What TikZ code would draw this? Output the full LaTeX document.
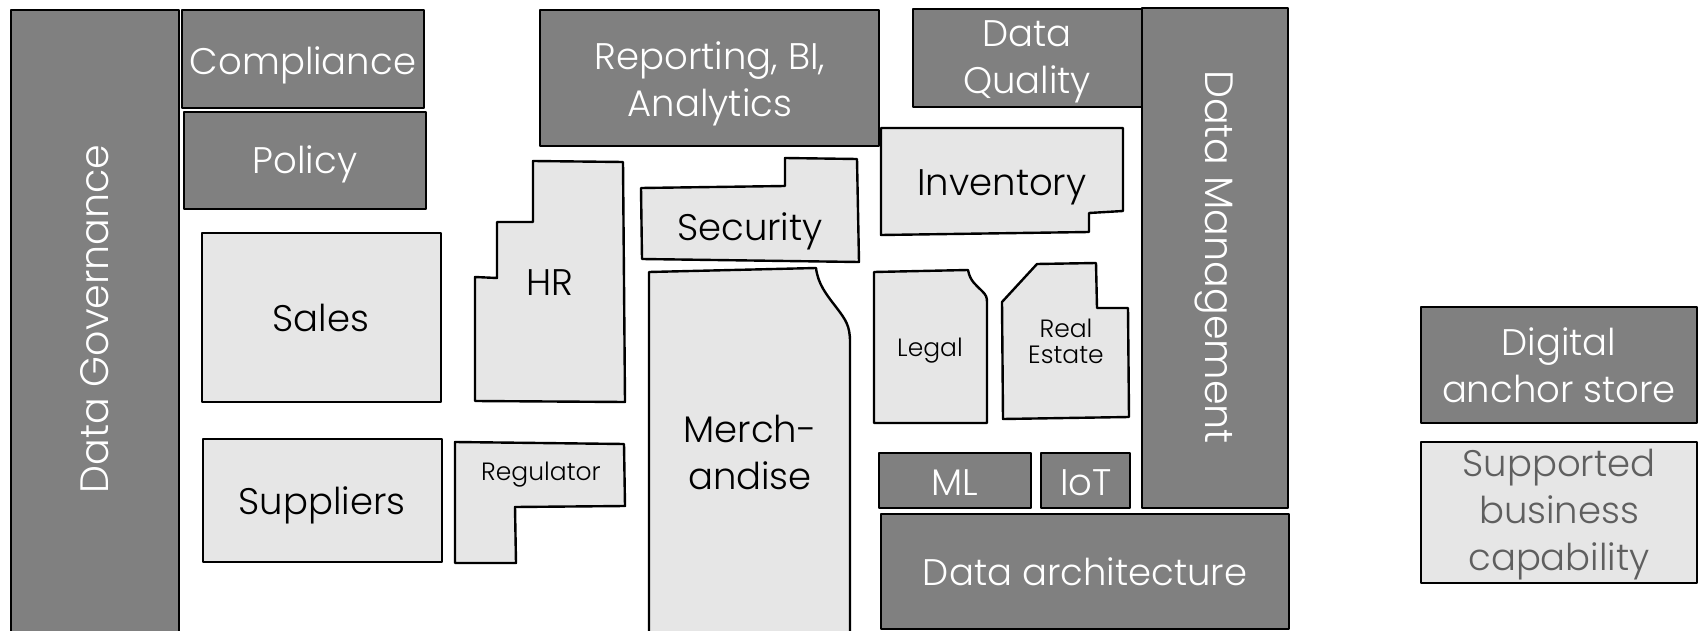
\documentclass[tikz,border=0pt]{standalone}
\usepackage{fontspec}
\setmainfont{Poppins}[UprightFont=* Light]
\definecolor{darkfill}{RGB}{128,128,128}
\definecolor{lightfill}{RGB}{230,230,230}
\definecolor{legendtext}{RGB}{95,95,95}
\tikzset{
  darkbox/.style={draw=black, fill=darkfill, line width=1.2pt, line join=round},
  lightbox/.style={draw=black, fill=lightfill, line width=1.2pt, line join=round},
  darklabel/.style={text=white, font=\fontsize{18.5}{23.5}\selectfont, align=center, inner sep=0pt, anchor=base},
  lightlabel/.style={text=black, font=\fontsize{18.5}{23.5}\selectfont, align=center, inner sep=0pt, anchor=base},
  smalllabel/.style={text=black, font=\fontsize{12.5}{13}\selectfont, align=center, inner sep=0pt, anchor=base},
  sidelabel/.style={text=white, font=\fontsize{19.8}{23.5}\selectfont, inner sep=0pt, anchor=center},
}
\begin{document}
\begin{tikzpicture}[x=0.5pt, y=-0.5pt]
\useasboundingbox (0,0) rectangle (1698,631);

% governance column and its neighbours
\path[darkbox] (11,10) rectangle (179,650);
\node[sidelabel, rotate=90] (gov) at (95,319) {Data Governance};
\path[darkbox] (182,10) rectangle (424,108);
\node[darklabel] (compliance) at (303,75) {Compliance};
\path[darkbox] (184,112) rectangle (426,209);
\node[darklabel] (policy) at (305,174) {Policy};

% reporting and data quality (base anchor sits on the last line)
\path[darkbox] (540,10) rectangle (879,146);
\node[darklabel] (reporting) at (710,117) {Reporting, BI,\\Analytics};
\path[darkbox] (913,9) rectangle (1142,107);
\node[darklabel] (quality) at (1027,94) {Data\\Quality};

% data management column
\path[darkbox] (1142,8) rectangle (1288,508);
\node[sidelabel, rotate=-90] (mgmt) at (1214,257) {Data Management};

% business capabilities
\path[lightbox] (202,233) rectangle (441,402);
\node[lightlabel] (sales) at (321,331) {Sales};
\path[lightbox] (203,439) rectangle (442,562);
\node[lightlabel] (suppliers) at (322,514) {Suppliers};

\path[lightbox] (533,161) -- (623,162) -- (625,402) -- (475,401) -- (475,277)
  -- (497,278) -- (497,222) -- (533,222) -- cycle;
\node[lightlabel] (hr) at (550,295) {HR};

\path[lightbox] (455,442) -- (624,444) -- (625,506) -- (515,507) -- (516,563)
  -- (455,563) -- cycle;
\node[smalllabel] (regulator) at (541,480) {Regulator};

\path[lightbox] (641,188) -- (785,186) -- (785,158) -- (857,159) -- (859,262)
  -- (642,259) -- cycle;
\node[lightlabel] (security) at (750,240) {Security};

\path[lightbox] (881,128) -- (1123,128) -- (1123,211) -- (1089,213) -- (1089,232)
  -- (881,235) -- cycle;
\node[lightlabel] (inventory) at (1002,195) {Inventory};

\path[lightbox] (649,272) -- (816,268)
  .. controls (818,284) and (826,294) .. (836,307)
  .. controls (846,320) and (850,326) .. (850,342)
  -- (850,650) -- (649,650) -- cycle;
\node[lightlabel] (merch) at (750,489) {Merch-\\andise};

\path[lightbox] (874,272) -- (968,270)
  .. controls (970,281) and (976,285) .. (982,291)
  .. controls (986,295) and (987,297) .. (987,302)
  -- (987,423) -- (874,423) -- cycle;
\node[smalllabel] (legal) at (930,356) {Legal};

\path[lightbox] (1002,302) -- (1037,264) -- (1096,263) -- (1097,308) -- (1128,308)
  -- (1129,417) -- (1003,419) -- cycle;
\node[smalllabel] (estate) at (1066,363) {Real\\Estate};

% technology blocks
\path[darkbox] (879,453) rectangle (1031,508);
\node[darklabel] (ml) at (955,495) {ML};
\path[darkbox] (1041,453) rectangle (1130,508);
\node[darklabel] (iot) at (1086,495) {IoT};
\path[darkbox] (881,514) rectangle (1289,629);
\node[darklabel] (arch) at (1085,585) {Data architecture};

% legend
\path[darkbox] (1421,307) rectangle (1697,423);
\node[darklabel] (anchor) at (1559,402) {Digital\\anchor store};
\path[lightbox] (1421,442) rectangle (1697,583);
\node[lightlabel, text=legendtext] (supported) at (1559,570) {Supported\\business\\capability};
\end{tikzpicture}
\end{document}
